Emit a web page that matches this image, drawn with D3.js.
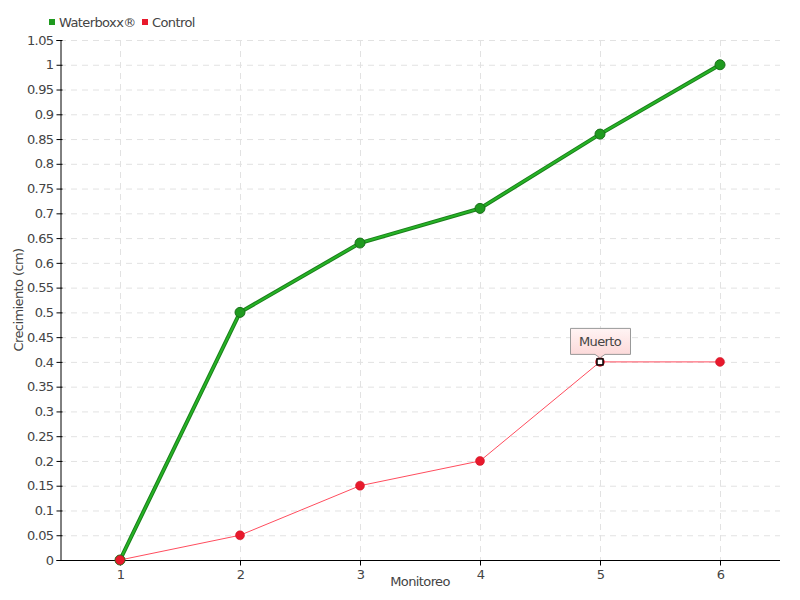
<!DOCTYPE html>
<html><head><meta charset="utf-8">
<script src="https://cdn.jsdelivr.net/npm/d3@7"></script>
<style>
body{margin:0;background:#fff;}
text{font-family:"DejaVu Sans",sans-serif;fill:#444;letter-spacing:-0.6px;}
</style></head><body>
<svg id="c" width="800" height="600"></svg>
<script>
const categories = [1, 2, 3, 4, 5, 6];
const waterboxx = [0, 0.5, 0.64, 0.71, 0.86, 1.0];
const control = [0, 0.05, 0.15, 0.2, 0.4, 0.4];
const yTicks = [0,0.05,0.1,0.15,0.2,0.25,0.3,0.35,0.4,0.45,0.5,0.55,0.6,0.65,0.7,0.75,0.8,0.85,0.9,0.95,1,1.05];
const seriesNames = ["Waterboxx®", "Control"];
const annotation = {series: 1, index: 4, label: "Muerto"};

const svg = d3.select("#c");
const L=60,R=780,T=40,B=560;
const x = d3.scaleLinear().domain([0.5,6.5]).range([L,R]);
const y = d3.scaleLinear().domain([0,1.05]).range([B,T]);
const fmt = v => String(+v.toFixed(2));

const defs = svg.append("defs");
const g1 = defs.append("linearGradient").attr("id","tip").attr("x1",0).attr("y1",0).attr("x2",0).attr("y2",1);
g1.append("stop").attr("offset","0%").attr("stop-color","#fff4f4");
g1.append("stop").attr("offset","100%").attr("stop-color","#fcd6d6");

// grid
svg.append("g").selectAll("line").data(yTicks.filter(d=>d>0)).join("line")
 .attr("x1",L).attr("x2",R).attr("y1",d=>y(d)+0.5).attr("y2",d=>y(d)+0.5)
 .attr("stroke","#e2e2e2").attr("stroke-dasharray","6,5");
svg.append("g").selectAll("line").data(categories).join("line")
 .attr("x1",d=>x(d)+0.5).attr("x2",d=>x(d)+0.5).attr("y1",T).attr("y2",B)
 .attr("stroke","#e2e2e2").attr("stroke-dasharray","6,5");

// axes
const yAxis = d3.axisLeft(y).tickValues(yTicks).tickFormat(fmt).tickSize(4).tickPadding(3);
const ya = svg.append("g").attr("transform",`translate(${L+0.5},0)`).call(yAxis);
ya.select(".domain").attr("stroke","#000");
ya.selectAll(".tick line").attr("stroke","#000").attr("x2",-4).attr("x1",2);
ya.selectAll("text").style("font-size","13px").attr("fill","#444");
const xAxis = d3.axisBottom(x).tickValues(categories).tickFormat(d3.format("d")).tickSize(5).tickPadding(4);
const xa = svg.append("g").attr("transform",`translate(0,${B+0.5})`).call(xAxis);
xa.select(".domain").attr("stroke","#000").attr("d",`M${L},0H${R}`);
xa.selectAll(".tick line").attr("stroke","#000");
xa.selectAll("text").style("font-size","13px").attr("fill","#444");

// titles
svg.append("text").attr("x",420).attr("y",586).attr("text-anchor","middle").style("font-size","13px").text("Monitoreo");
svg.append("text").attr("transform","translate(23,300) rotate(-90)").attr("text-anchor","middle").style("font-size","13px").text("Crecimiento (cm)");

// lines
const line = d3.line().x((d,i)=>x(categories[i])).y(d=>y(d));
svg.append("path").attr("d",line(waterboxx)).attr("fill","none").attr("stroke","#1a7f1a").attr("stroke-width",4);
svg.append("path").attr("d",line(waterboxx)).attr("fill","none").attr("stroke","#26b326").attr("stroke-width",2);
svg.append("path").attr("d",line(control)).attr("fill","none").attr("stroke","#ff4d5e").attr("stroke-width",1);

svg.append("g").selectAll("circle").data(waterboxx).join("circle")
 .attr("cx",(d,i)=>x(categories[i])).attr("cy",d=>y(d)).attr("r",5)
 .attr("fill","#1f9a1f").attr("stroke","#1a701a").attr("stroke-width",1);
svg.append("g").selectAll("circle").data(control).join("circle")
 .attr("cx",(d,i)=>x(categories[i])).attr("cy",d=>y(d)).attr("r",4.5)
 .attr("fill","#e8192c").attr("stroke","#c81020").attr("stroke-width",0.5);

// annotation
const ax = x(categories[annotation.index]), ay = y(control[annotation.index]);
svg.append("rect").attr("x",ax-3).attr("y",ay-3).attr("width",6).attr("height",6).attr("fill","#fff").attr("stroke","#000").attr("stroke-width",1.5);
const bx=ax-30, by=ay-34, bw=60, bh=26;
svg.append("path").attr("d",`M${bx+0.5},${by+0.5}H${bx+bw+0.5}V${by+bh+0.5}H${ax+5}L${ax},${ay-4}L${ax-5},${by+bh+0.5}H${bx+0.5}Z`)
 .attr("fill","url(#tip)").attr("stroke","#999").attr("stroke-width",1);
svg.append("text").attr("x",ax).attr("y",by+18).attr("text-anchor","middle").style("font-size","13px").text(annotation.label);

// legend
const leg = svg.append("g");
const legColors=["#1f9a1f","#e8192c"];
const lx=[49,142];
seriesNames.forEach((n,i)=>{
  leg.append("rect").attr("x",lx[i]).attr("y",19).attr("width",6).attr("height",6).attr("fill",legColors[i]);
  leg.append("text").attr("x",lx[i]+10).attr("y",27).style("font-size","13px").text(n);
});
</script></body></html>
